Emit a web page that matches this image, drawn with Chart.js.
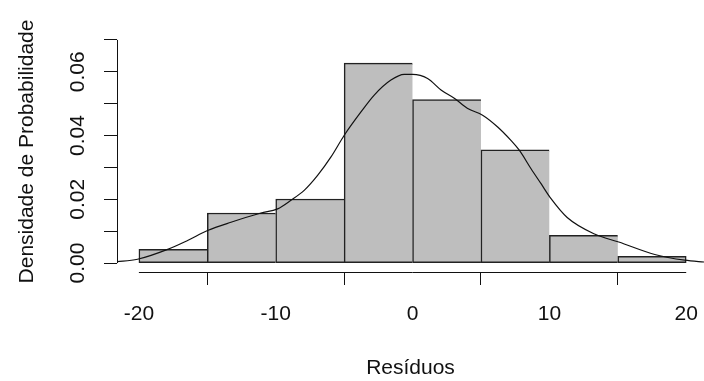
<!DOCTYPE html>
<html>
<head>
<meta charset="utf-8">
<script src="https://cdn.jsdelivr.net/npm/chart.js@4/dist/chart.umd.min.js"></script>
<style>
  html, body { margin: 0; padding: 0; background: #fff; overflow: hidden; }
  #wrap { width: 704px; height: 381px; }
</style>
</head>
<body>
<div id="wrap"><canvas id="hist"></canvas></div>
<script>
// histogram bins (centres) and densities
const binCenters = [-17.5, -12.5, -7.5, -2.5, 2.5, 7.5, 12.5, 17.5];
const binDensity = [0.0043, 0.0157, 0.0201, 0.0627, 0.0513, 0.0355, 0.0087, 0.0021];

// kernel density curve
const densityX = [-21.7, -20.1, -17.9, -16.44, -14.98, -13.27, -11.08, -9.86, -8.89, -7.92, -6.94, -5.96, -4.99,
                  -3.77, -2.8, -1.58, -0.61, 0.0, 1.1, 2.08, 3.05, 4.03, 5.12, 6.22, 7.19, 7.8, 8.66, 9.39, 10.12,
                  11.3, 13.3, 15.07, 17.7, 19.9, 21.4];
const densityY = [0.0004, 0.0012, 0.0043, 0.0071, 0.0102, 0.0128, 0.0157, 0.0170, 0.0197, 0.0228, 0.0275, 0.0333, 0.0401,
                  0.0474, 0.0527, 0.0574, 0.0592, 0.0592, 0.0579, 0.0543, 0.0517, 0.0485, 0.0464, 0.0427, 0.0385, 0.0354, 0.0296, 0.0249, 0.0202,
                  0.0143, 0.0091, 0.0066, 0.0027, 0.0009, 0.0003];

const xTickValues = [-20, -10, 0, 10, 20];
const yTickLabels = ["0.00", "0.02", "0.04", "0.06"];
const yLabelValues = [0, 0.02, 0.04, 0.06];

const FONT = "'Liberation Sans', Arial, sans-serif";

// R style axes: line only from first to last tick, y labels rotated
const rAxes = {
    id: "rAxes",
    afterDraw(chart) {
        const ctx = chart.ctx;
        const xs = chart.scales.x;
        const ys = chart.scales.y;
        ctx.save();
        ctx.strokeStyle = "#111";
        ctx.lineWidth = 1;
        ctx.beginPath();
        const yb = Math.round(xs.top) + 0.5;
        ctx.moveTo(xs.getPixelForValue(xTickValues[0]), yb);
        ctx.lineTo(xs.getPixelForValue(xTickValues[xTickValues.length - 1]), yb);
        const xl = Math.round(ys.right) + 0.5;
        ctx.moveTo(xl, ys.getPixelForValue(0));
        ctx.lineTo(xl, ys.getPixelForValue(0.07));
        ctx.stroke();

        ctx.fillStyle = "#111";
        ctx.font = "21px " + FONT;
        ctx.textAlign = "center";
        ctx.textBaseline = "middle";
        yLabelValues.forEach((v, i) => {
            ctx.save();
            ctx.translate(78, ys.getPixelForValue(v));
            ctx.rotate(-Math.PI / 2);
            ctx.fillText(yTickLabels[i], 0, 0);
            ctx.restore();
        });
        ctx.restore();
    }
};

const lastBin = binCenters.length - 1;

new Chart(document.getElementById("hist").getContext("2d"), {
    type: "bar",
    data: {
        datasets: [
            {
                type: "line",
                data: densityX.map((x, i) => ({x: x, y: densityY[i]})),
                borderColor: "#111",
                borderWidth: 1.2,
                pointRadius: 0,
                cubicInterpolationMode: "monotone",
                fill: false,
                order: 0,
            },
            {
                type: "bar",
                data: binCenters.map((x, i) => ({x: x, y: binDensity[i]})),
                backgroundColor: "#bebebe",
                borderColor: "#222",
                borderWidth: ctx => ({top: 1.5, bottom: 1.5, left: 1.5, right: ctx.dataIndex === lastBin ? 1.5 : 0}),
                borderSkipped: false,
                barPercentage: 1,
                categoryPercentage: 1,
                order: 1,
            },
        ],
    },
    options: {
        responsive: true,
        maintainAspectRatio: false,
        animation: false,
        layout: {padding: {top: 31, left: 0, right: 0, bottom: 0}},
        plugins: {
            legend: {display: false},
            tooltip: {enabled: false},
        },
        scales: {
            x: {
                type: "linear",
                min: -21.6,
                max: 21.3,
                offset: false,
                afterFit: scale => {
                    scale.height = 109;
                    scale.paddingLeft = 0;
                    scale.paddingRight = 0;
                },
                border: {display: false},
                grid: {
                    drawOnChartArea: false,
                    drawTicks: true,
                    tickLength: 13,
                    tickColor: "#111",
                    color: "#111",
                },
                ticks: {
                    stepSize: 10,
                    includeBounds: false,
                    maxRotation: 0,
                    padding: 17,
                    color: "#111",
                    font: {size: 21, family: FONT},
                    callback: v => String(v),
                },
                title: {
                    display: true,
                    text: "Resíduos",
                    color: "#111",
                    font: {size: 21, family: FONT},
                    padding: {top: 0, bottom: 0},
                },
            },
            y: {
                type: "linear",
                min: -0.0028,
                max: 0.0728,
                afterFit: scale => {
                    scale.width = 117;
                    scale.paddingTop = 0;
                    scale.paddingBottom = 0;
                },
                border: {display: false},
                grid: {
                    drawOnChartArea: false,
                    drawTicks: true,
                    tickLength: 13,
                    tickColor: "#111",
                    color: "#111",
                },
                ticks: {
                    stepSize: 0.01,
                    includeBounds: false,
                    display: false,
                },
                title: {
                    display: true,
                    text: "Densidade de Probabilidade",
                    color: "#111",
                    font: {size: 21, family: FONT},
                    padding: {top: 15, bottom: 0},
                },
            },
        },
    },
    plugins: [rAxes],
});
</script>
</body>
</html>
